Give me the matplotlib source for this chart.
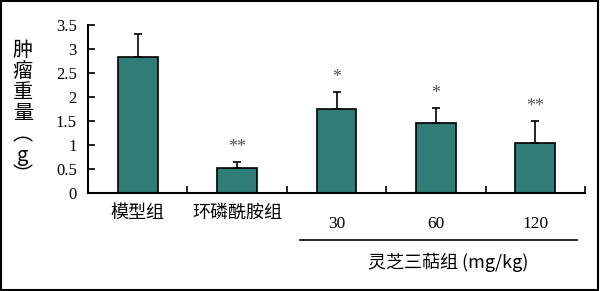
import numpy as np
import matplotlib
matplotlib.use('Agg')
from matplotlib import pyplot as plt

plt.rcParams['font.family'] = ['Noto Sans CJK SC', 'DejaVu Sans']

# 数据
groups = ['模型组', '环磷酰胺组', '30', '60', '120']
means = [2.83, 0.52, 1.75, 1.46, 1.05]
errs = [0.48, 0.13, 0.36, 0.32, 0.45]
stars = ['', '**', '*', '*', '**']
yticks = [0, 0.5, 1, 1.5, 2, 2.5, 3, 3.5]
ytick_labels = ['0', '0.5', '1', '1.5', '2', '2.5', '3', '3.5']

bar_color = '#2f7d76'

fig = plt.figure(figsize=(6, 2.91), dpi=100)
ax = fig.add_axes([0.1467, 0.3368, 0.8283, 0.5773])

x = np.arange(len(groups))
ax.bar(x, means, width=0.4, color=bar_color, edgecolor='black', linewidth=1.2)
ax.errorbar(x, means, yerr=[np.zeros(len(errs)), errs], fmt='none',
            ecolor='black', elinewidth=1.2, capsize=3, capthick=1.2)

# 显著性标记
for xi, m, e, s in zip(x, means, errs, stars):
    if s:
        ax.annotate(s, (xi, m + e), xytext=(0, 4), textcoords='offset points',
                    ha='center', va='bottom', fontsize=13, color='#555555',
                    family='Liberation Serif')

ax.set_xlim(-0.5, len(groups) - 0.5)
ax.set_ylim(0, 3.5)
ax.set_yticks(yticks)
ax.set_yticklabels(ytick_labels, family='Liberation Serif', fontsize=12)
ax.set_xticks(np.arange(-0.5, len(groups), 1.0))
ax.set_xticklabels([])
ax.tick_params(axis='both', direction='in', length=5, width=1.2, pad=8)
ax.spines['top'].set_visible(False)
ax.spines['right'].set_visible(False)
ax.spines['left'].set_linewidth(1.5)
ax.spines['bottom'].set_linewidth(1.5)

tr = ax.get_xaxis_transform()
for xi, g in zip(x, groups):
    if xi < 2:
        ax.text(xi, -0.12, g, transform=tr, ha='center', va='center',
                fontsize=13, clip_on=False)
    else:
        ax.text(xi, -0.185, g, transform=tr, ha='center', va='center',
                fontsize=12.5, family='Liberation Serif', clip_on=False)

ax.plot([1.63, 4.42], [-0.28, -0.28], transform=tr, color='black',
        linewidth=1.2, clip_on=False)
ax.text(3.12, -0.41, '灵芝三萜组 (mg/kg)', transform=tr, ha='center',
        va='center', fontsize=13, clip_on=False)

# 纵轴标题（竖排）
fig.text(0.038, 0.61, '肿\n瘤\n重\n量\n︵\ng\n︶', ha='center', va='center',
         fontsize=14.5, linespacing=1.0)

# 外框
fig.patches.append(plt.Rectangle((0.002, 0.003), 0.995, 0.993, transform=fig.transFigure,
                                 fill=False, edgecolor='black', linewidth=1.5))

fig.savefig('out.png', dpi=100)
